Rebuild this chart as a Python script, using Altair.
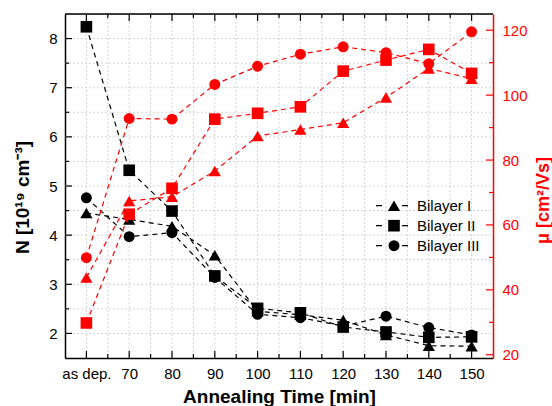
import altair as alt
import pandas as pd

# ---------------- data ----------------
times = [60, 70, 80, 90, 100, 110, 120, 130, 140, 150]  # 60 == "as dep."
series = ["Bilayer I", "Bilayer II", "Bilayer III"]

N_I = [4.45, 4.32, 4.18, 3.59, 2.45, 2.38, 2.27, 1.97, 1.75, 1.74]
N_II = [8.24, 5.32, 4.49, 3.17, 2.51, 2.42, 2.13, 2.03, 1.92, 1.93]
N_III = [4.76, 3.97, 4.05, 3.14, 2.39, 2.32, 2.15, 2.35, 2.12, 1.97]

mu_I = [43.8, 67.4, 68.7, 76.6, 87.4, 89.4, 91.5, 99.3, 108.2, 105.1]
mu_II = [29.8, 63.3, 71.3, 92.6, 94.4, 96.4, 107.4, 110.8, 114.1, 106.7]
mu_III = [49.9, 92.8, 92.6, 103.3, 108.9, 112.6, 114.9, 113.1, 109.7, 119.5]

x_major = times
x_minor = [65, 75, 85, 95, 105, 115, 125, 135, 145]
n_major = [2, 3, 4, 5, 6, 7, 8]
n_minor = [2.5, 3.5, 4.5, 5.5, 6.5, 7.5]
mu_major = [20, 40, 60, 80, 100, 120]
mu_minor = [30, 50, 70, 90, 110]


def long(vals_list):
    rows = []
    for s, vals in zip(series, vals_list):
        for t, v in zip(times, vals):
            rows.append({"t": t, "v": v, "series": s})
    return pd.DataFrame(rows)


dfN = long([N_I, N_II, N_III])
dfM = long([mu_I, mu_II, mu_III])

# ---------------- styling ----------------
W, H = 428, 344
FONT = "Liberation Sans"
RED = "#ff0000"
GRID = "#d4d4d4"
DASH = [5, 4]

xscale = alt.Scale(domain=[55, 155], nice=False, zero=False)
nscale = alt.Scale(domain=[1.5, 8.5], nice=False, zero=False)
mscale = alt.Scale(domain=[19, 125], nice=False, zero=False)
shape_scale = alt.Scale(domain=series, range=["triangle-up", "square", "circle"])
size_scale = alt.Scale(domain=series, range=[150, 120, 130])

x_axis = alt.Axis(
    values=x_major,
    labelExpr="datum.value == 60 ? 'as dep.' : datum.label",
    grid=False, tickSize=0, labelPadding=8, labelFontSize=15, labelColor="black",
    domainColor="black", domainWidth=1.5,
    title="Annealing Time [min]", titleFontSize=19, titleFontWeight="bold",
    titleColor="black", titlePadding=6,
)

n_axis = alt.Axis(
    values=n_major,
    grid=False, tickSize=0, labelPadding=8, labelFontSize=15, labelColor="black",
    domainColor="black", domainWidth=1.5,
    title="N [10¹⁹ cm⁻³]", titleFontSize=19, titleFontWeight="bold",
    titleColor="black", titlePadding=16, titleY=183,
)

m_axis = alt.Axis(
    orient="right", values=mu_major,
    grid=False, tickSize=0, labelPadding=9, labelFontSize=15,
    labelColor=RED, domainColor=RED, domainWidth=1.5,
    title="μ [cm²/Vs]", titleFontSize=18, titleFontWeight="bold",
    titleColor=RED, titlePadding=7, titleAngle=270, titleBaseline="top", titleY=186,
)

X = lambda **kw: alt.X("t:Q", scale=xscale, **kw)
YN = lambda **kw: alt.Y("v:Q", scale=nscale, **kw)
YM = lambda **kw: alt.Y("v:Q", scale=mscale, **kw)

# ---------------- grid ----------------
x_grid = alt.Chart(pd.DataFrame({"t": x_major + x_minor})).mark_rule(
    color=GRID, strokeWidth=1, strokeDash=[2, 2]
).encode(x=X(), y=alt.value(0), y2=alt.value(H))

n_grid = alt.Chart(pd.DataFrame({"v": n_major + n_minor})).mark_rule(
    color=GRID, strokeWidth=1, strokeDash=[2, 2]
).encode(y=YN(), x=alt.value(0), x2=alt.value(W))

# ---------------- left (N) layer ----------------
n_lines = alt.Chart(dfN).mark_line(color="black", strokeDash=DASH, strokeWidth=1.2).encode(
    x=X(axis=x_axis), y=YN(axis=n_axis), detail="series:N",
)
n_points = alt.Chart(dfN).mark_point(filled=True, opacity=1, color="black").encode(
    x=X(), y=YN(),
    shape=alt.Shape("series:N", scale=shape_scale, legend=None),
    size=alt.Size("series:N", scale=size_scale, legend=None),
)


def xticks(vals, y0, y1):
    return alt.Chart(pd.DataFrame({"t": vals})).mark_rule(color="black", strokeWidth=1.2).encode(
        x=X(), y=alt.value(y0), y2=alt.value(y1),
    )


def nticks(vals, length):
    return alt.Chart(pd.DataFrame({"v": vals})).mark_rule(color="black", strokeWidth=1.2).encode(
        y=YN(), x=alt.value(0), x2=alt.value(length),
    )


top_border = alt.Chart(pd.DataFrame({"a": [0]})).mark_rule(color="black", strokeWidth=1.5).encode(
    x=alt.value(0), x2=alt.value(W), y=alt.value(0)
)

# legend (drawn by hand, inside the plot)
legend_layers = []
leg_y0, leg_dy = 191.7, 20
for i, s in enumerate(series):
    yy = leg_y0 + i * leg_dy
    one = pd.DataFrame({"series": [s]})
    legend_layers.append(
        alt.Chart(one).mark_rule(color="black", strokeWidth=1.2, strokeDash=[6, 20]).encode(
            x=alt.value(311), x2=alt.value(343), y=alt.value(yy)
        )
    )
    legend_layers.append(
        alt.Chart(one).mark_point(filled=True, opacity=1, color="black").encode(
            x=alt.value(329), y=alt.value(yy),
            shape=alt.Shape("series:N", scale=shape_scale, legend=None),
            size=alt.Size("series:N", scale=size_scale, legend=None),
        )
    )
    legend_layers.append(
        alt.Chart(one).mark_text(align="left", baseline="middle", font=FONT, fontSize=15, color="black").encode(
            x=alt.value(352), y=alt.value(yy), text="series:N"
        )
    )

left = alt.layer(
    x_grid, n_grid,
    n_lines,
    xticks(x_major, H, H - 7),
    xticks(x_minor, H, H - 4),
    xticks(x_major, 0, 7),
    xticks(x_minor, 0, 4),
    nticks(n_major, 7),
    nticks(n_minor, 4),
    top_border,
    n_points,
    *legend_layers,
)

# ---------------- right (mu) layer ----------------
m_lines = alt.Chart(dfM).mark_line(color=RED, strokeDash=DASH, strokeWidth=1.2).encode(
    x=X(), y=YM(axis=m_axis), detail="series:N",
)
m_points = alt.Chart(dfM).mark_point(filled=True, opacity=1, color=RED).encode(
    x=X(), y=YM(),
    shape=alt.Shape("series:N", scale=shape_scale, legend=None),
    size=alt.Size("series:N", scale=size_scale, legend=None),
)


def mticks(vals, length):
    return alt.Chart(pd.DataFrame({"v": vals})).mark_rule(color=RED, strokeWidth=1.2).encode(
        y=YM(), x=alt.value(W), x2=alt.value(W - length),
    )


right = alt.layer(m_lines, mticks(mu_major, 7), mticks(mu_minor, 4), m_points)

chart = (
    alt.layer(left, right)
    .resolve_scale(y="independent")
    .properties(
        width=W, height=H,
        padding={"left": 65, "top": 14, "right": 59, "bottom": 48},
        autosize=alt.AutoSizeParams(type="none"),
        background="white",
    )
    .configure_view(stroke="transparent")
    .configure(font=FONT)
)

chart.save("out.html", embed_options={"renderer": "svg", "actions": False})
